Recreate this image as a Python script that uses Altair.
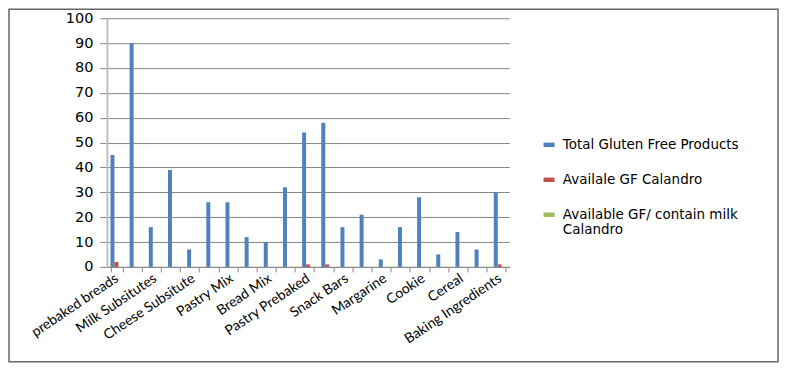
import altair as alt
import pandas as pd

categories = [
    "prebaked breads", "(unlabelled 2)", "Milk Subsitutes", "(unlabelled 4)",
    "Cheese Subsitute", "(unlabelled 6)", "Pastry Mix", "(unlabelled 8)",
    "Bread Mix", "(unlabelled 10)", "Pastry Prebaked", "(unlabelled 12)",
    "Snack Bars", "(unlabelled 14)", "Margarine", "(unlabelled 16)",
    "Cookie", "(unlabelled 18)", "Cereal", "(unlabelled 20)", "Baking Ingredients",
]
shown_labels = [c for c in categories if not c.startswith("(unlabelled")]

series = ["Total Gluten Free Products", "Availale GF Calandro",
          "Available GF/ contain  milk Calandro"]
total_gf = [45, 90, 16, 39, 7, 26, 26, 12, 10, 32, 54, 58, 16, 21, 3, 16, 28, 5, 14, 7, 30]
avail_gf = [2, 0, 0, 0, 0, 0, 0, 0, 0, 0, 1, 1, 0, 0, 0, 0, 0, 0, 0, 0, 1]
avail_milk = [0] * 21
colors = ["#4F81BD", "#C0504D", "#9BBB59"]

rows = []
for vals, s in zip([total_gf, avail_gf, avail_milk], series):
    for c, v in zip(categories, vals):
        rows.append({"category": c, "series": s, "value": v})
df = pd.DataFrame(rows)

label_list = "[" + ",".join("'" + l + "'" for l in shown_labels) + "]"

bars = alt.Chart(df).mark_bar().encode(
    x=alt.X("category:N", sort=categories,
            scale=alt.Scale(paddingInner=0.375, paddingOuter=0.1875),
            axis=alt.Axis(title=None, labelAngle=-34, labelAlign="right",
                          labelBaseline="middle", labelOverlap=False, labelLimit=300,
                          labelFont="Lato", labelFontSize=14, labelColor="#000000",
                          labelPadding=5, tickBand="extent", tickSize=5,
                          tickColor="#868686", domainColor="#868686",
                          labelExpr="indexof(" + label_list + ", datum.value) >= 0 ? datum.label : ''")),
    xOffset=alt.XOffset("series:N", sort=series),
    y=alt.Y("value:Q", scale=alt.Scale(domain=[0, 100], nice=False),
            axis=alt.Axis(title=None, values=list(range(0, 101, 10)), grid=True,
                          gridColor="#868686", tickColor="#868686", tickSize=7,
                          domainColor="#BFBFBF", domainWidth=2,
                          labelFont="DejaVu Sans", labelFontSize=14.5,
                          labelColor="#000000", labelPadding=7)),
    color=alt.Color("series:N", sort=series,
                    scale=alt.Scale(domain=series, range=colors),
                    legend=alt.Legend(title=None, orient="none", legendX=436, legendY=120,
                                      symbolType="M-1,-0.4H1V0.4H-1Z", symbolSize=121,
                                      symbolStrokeWidth=0, labelOffset=7,
                                      labelFont="DejaVu Sans", labelFontSize=13.5,
                                      labelColor="#000000", rowPadding=20, labelLimit=300,
                                      labelExpr="datum.label == 'Available GF/ contain  milk Calandro' ? ['Available GF/ contain  milk', 'Calandro'] : datum.label")),
)

border = alt.Chart(alt.Data(values=[{}])).mark_rect(
    fillOpacity=0, stroke="#666666", strokeWidth=1.5
).encode(x=alt.value(-98), x2=alt.value(672), y=alt.value(-9), y2=alt.value(344))

chart = alt.layer(bars, border).properties(
    width=403, height=249,
    autosize=alt.AutoSizeParams(type="none"),
    padding={"left": 99, "top": 10, "right": 272, "bottom": 100},
).configure_view(stroke=None)

chart.save("out.html", embed_options={"renderer": "svg", "actions": False})
